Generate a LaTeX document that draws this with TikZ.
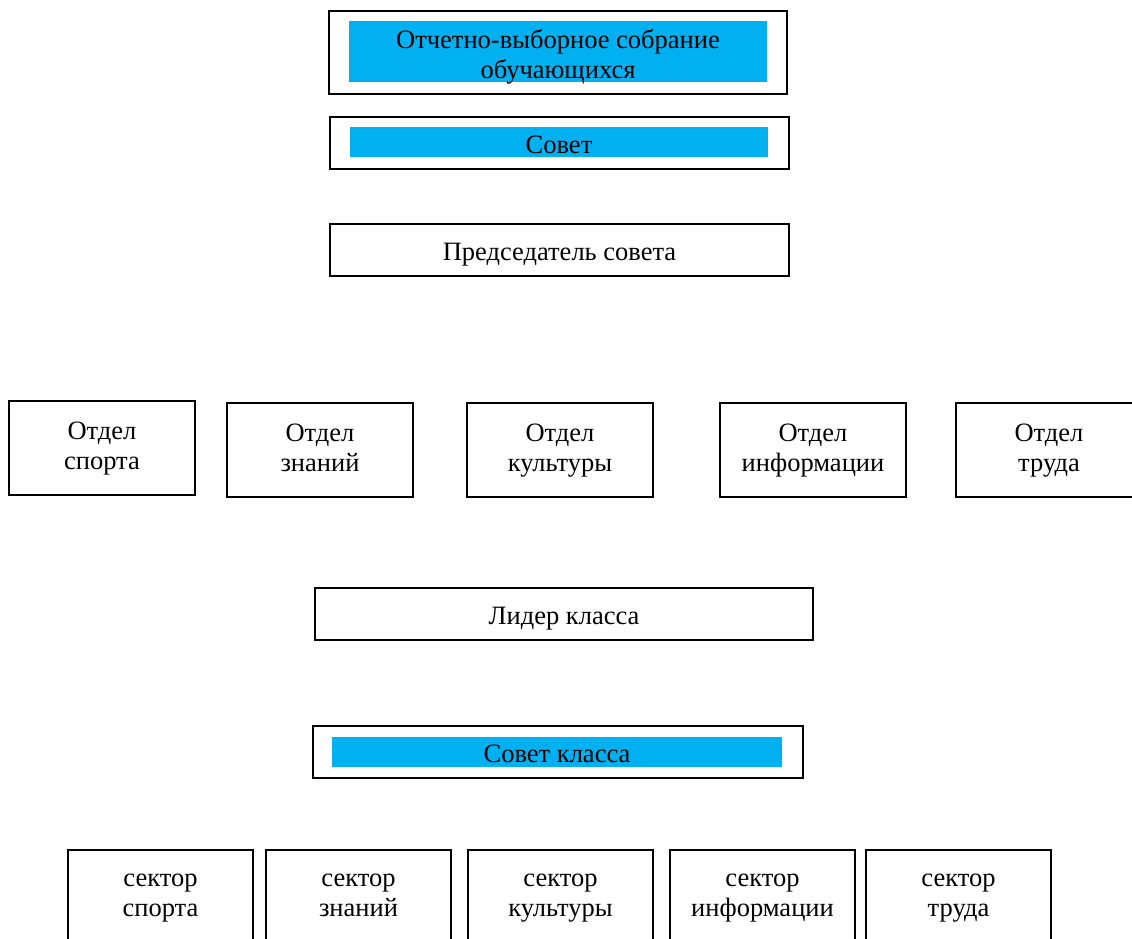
\documentclass[tikz,border=0pt]{standalone}
\usepackage{fontspec}
\setmainfont{Liberation Serif}
\definecolor{skyblue}{HTML}{00B0F0}
\begin{document}
\begin{tikzpicture}[x=1pt,y=-1pt,
  box/.style={draw=black,line width=1.6pt,fill=white,inner sep=0pt},
  bluebar/.style={fill=skyblue,draw=none,inner sep=0pt},
  txt/.style={font=\fontsize{26.5}{30}\selectfont,align=center,inner sep=0pt}]
\clip (0,0) rectangle (1132,938);
\fill[white] (0,0) rectangle (1132,938);
% top
\node[box,minimum width=458,minimum height=83] (sobr) at (558,52.5) {};
\node[bluebar,minimum width=418,minimum height=61] (sobrb) at (558,51.5) {};
\node[txt] (sobrt) at (558,57.5) {\strut Отчетно-выборное собрание\\\strut обучающихся};
\node[box,minimum width=459,minimum height=52] (sovet) at (559.5,143) {};
\node[bluebar,minimum width=418,minimum height=30] (sovetb) at (559,142) {};
\node[txt] (sovett) at (559,147.5) {\strut Совет};
\node[box,minimum width=459,minimum height=52] (pred) at (559.5,250) {};
\node[txt] (predt) at (559.5,254.5) {\strut Председатель совета};
% departments
\foreach \n/\x/\y/\t in {d1/102/448/спорта,d2/320/450/знаний,d3/560/450/культуры,d4/813/450/информации,d5/1049/450/труда}{
  \node[box,minimum width=186,minimum height=94] (\n) at (\x,\y) {};
  \node[txt] (\n t) at (\n.center) {\strut Отдел\\\strut \t};
}
\node[box,minimum width=498,minimum height=52] (lider) at (564,614) {};
\node[txt] (lidert) at (564,618.5) {\strut Лидер класса};
\node[box,minimum width=490,minimum height=52] (sk) at (558,752) {};
\node[bluebar,minimum width=450,minimum height=30] (skb) at (557,752) {};
\node[txt] (skt) at (557,756.5) {\strut Совет класса};
% sectors
\foreach \n/\x/\t in {s1/160.5/спорта,s2/358.5/знаний,s3/560.5/культуры,s4/762.5/информации,s5/958.5/труда}{
  \node[box,minimum width=185,minimum height=140,anchor=north] (\n) at (\x,849) {};
  \node[txt] (\n t) at ([yshift=-46.5pt]\n.north) {\strut сектор\\\strut \t};
}
\end{tikzpicture}
\end{document}
